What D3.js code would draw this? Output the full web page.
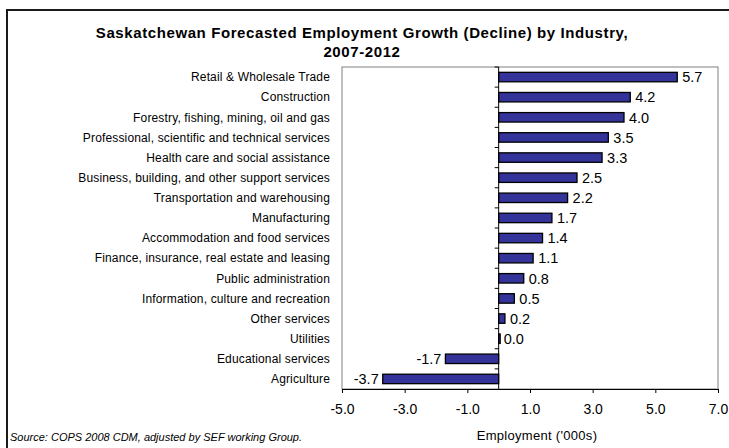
<!DOCTYPE html>
<html><head><meta charset="utf-8">
<script src="https://cdn.jsdelivr.net/npm/d3@7"></script>
<style>
html,body{margin:0;padding:0;background:#fff;}
svg{display:block;font-family:"Liberation Sans",Arial,sans-serif;}
</style></head>
<body><svg id="c" width="729" height="448"></svg>
<script>
const categories = ["Retail & Wholesale Trade","Construction","Forestry, fishing, mining, oil and gas","Professional, scientific and technical services","Health care and social assistance","Business, building, and other support services","Transportation and warehousing","Manufacturing","Accommodation and food services","Finance, insurance, real estate and leasing","Public administration","Information, culture and recreation","Other services","Utilities","Educational services","Agriculture"];
const values = [5.7,4.2,4.0,3.5,3.3,2.5,2.2,1.7,1.4,1.1,0.8,0.5,0.2,0.0,-1.7,-3.7];
const tickValues = [-5,-3,-1,1,3,5,7];
const titleLines = ["Saskatchewan Forecasted Employment Growth (Decline) by Industry,","2007-2012"];
const xTitle = "Employment ('000s)";
const source = "Source: COPS 2008 CDM, adjusted by SEF working Group.";

const fmt = v => d3.format(".1f")(v).replace("\u2212","-");

const svg = d3.select("#c");
const L=342, R=718, T=67, B=389;
const x = d3.scaleLinear().domain([-5,7]).range([L,R]);
const y = d3.scaleBand().domain(categories).range([T,B]).paddingInner(0.53).paddingOuter(0.265);
const yb = d3.scaleBand().domain(categories).range([T,B]);

// outer border
svg.append("rect").attr("x",7).attr("y",10).attr("width",740).attr("height",460)
  .attr("fill","none").attr("stroke","#1a1a1a").attr("stroke-width",2);

// title
svg.append("g").selectAll("text").data(titleLines).join("text")
  .attr("x",362).attr("y",(d,i)=>38+i*19).attr("text-anchor","middle")
  .attr("font-weight","bold").attr("font-size",15).attr("letter-spacing",0.6)
  .attr("fill","#000").text(d=>d);

// plot area border
svg.append("rect").attr("x",L).attr("y",T).attr("width",R-L).attr("height",B-T)
  .attr("fill","none").attr("stroke","#808080").attr("stroke-width",1);

// bars
svg.append("g").selectAll("rect").data(values).join("rect")
  .attr("x",d=>Math.min(x(0),x(d)))
  .attr("y",(d,i)=>y(categories[i]))
  .attr("width",d=>Math.max(1.5,Math.abs(x(d)-x(0))))
  .attr("height",y.bandwidth())
  .attr("fill","#333399").attr("stroke","#000").attr("stroke-width",1.3);

// bottom axis
const ax = svg.append("g").attr("transform",`translate(0,${B})`)
  .call(d3.axisBottom(x).tickValues(tickValues).tickSize(4).tickPadding(11).tickFormat(fmt));
ax.select(".domain").attr("stroke","#000");
ax.selectAll(".tick line").attr("stroke","#000");
ax.selectAll("text").attr("font-size",14).attr("font-family","Liberation Sans, Arial, sans-serif").attr("fill","#000");

// zero axis with category ticks
svg.append("line").attr("x1",x(0)).attr("x2",x(0)).attr("y1",T).attr("y2",B).attr("stroke","#000");
svg.append("g").selectAll("line").data(categories).join("line")
  .attr("x1",x(0)-4).attr("x2",x(0)).attr("y1",d=>yb(d)).attr("y2",d=>yb(d)).attr("stroke","#000");

// category labels
svg.append("g").selectAll("text").data(categories).join("text")
  .attr("x",330).attr("y",d=>yb(d)+yb.bandwidth()/2).attr("dy","0.35em")
  .attr("text-anchor","end").attr("font-size",12).attr("letter-spacing",0.15).attr("fill","#000").text(d=>d);

// value labels
svg.append("g").selectAll("text").data(values).join("text")
  .attr("x",d=>d<0?x(d)-4:x(d)+5)
  .attr("y",(d,i)=>yb(categories[i])+yb.bandwidth()/2).attr("dy","0.36em")
  .attr("text-anchor",d=>d<0?"end":"start").attr("font-size",14.5).attr("fill","#000")
  .text(d=>fmt(d));

// axis title & source
svg.append("text").attr("x",537).attr("y",440).attr("text-anchor","middle").attr("font-size",13).attr("letter-spacing",0.3).text(xTitle);
svg.append("text").attr("x",10).attr("y",441).attr("font-size",11).attr("font-style","italic").text(source);
</script></body></html>
